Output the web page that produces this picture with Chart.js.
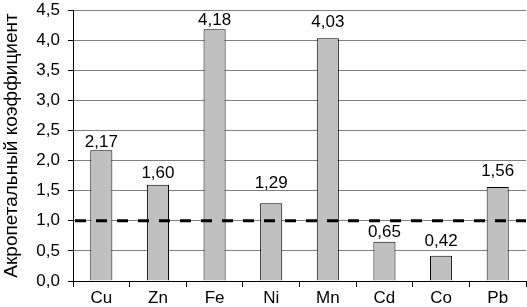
<!DOCTYPE html>
<html>
<head>
<meta charset="utf-8">
<script src="https://cdn.jsdelivr.net/npm/chart.js@4/dist/chart.umd.min.js"></script>
<style>
  html, body { margin: 0; padding: 0; background: #fff; }
  #wrap { width: 527px; height: 307px; }
</style>
</head>
<body>
<div id="wrap"><canvas id="chart"></canvas></div>
<script>
// данные
const elements = ['Cu', 'Zn', 'Fe', 'Ni', 'Mn', 'Cd', 'Co', 'Pb'];
const coefficients = [2.17, 1.60, 4.18, 1.29, 4.03, 0.65, 0.42, 1.56];
const threshold = 1.0;
const yTitle = 'Акропетальный коэффициент';

// зазор подписи над столбцом, px (подписи в оригинале сдвинуты вручную)
const labelGap = [3, 7, 4, 15, 11, 5, 10, 11];

const fmt = v => v.toFixed(2).replace('.', ',');

// подписи значений над столбцами
const valueLabels = {
  id: 'valueLabels',
  afterDatasetsDraw(chart) {
    const ctx = chart.ctx;
    const meta = chart.getDatasetMeta(0);
    ctx.save();
    ctx.font = '17px "Liberation Sans", Arial, sans-serif';
    ctx.fillStyle = '#000';
    ctx.textAlign = 'center';
    ctx.textBaseline = 'alphabetic';
    meta.data.forEach((bar, i) => {
      ctx.fillText(fmt(coefficients[i]), bar.x, bar.y - labelGap[i]);
    });
    ctx.restore();
  }
};

// пунктир на уровне 1,0
const thresholdLine = {
  id: 'thresholdLine',
  afterDatasetsDraw(chart) {
    const ctx = chart.ctx;
    const area = chart.chartArea;
    const y = chart.scales.y.getPixelForValue(threshold);
    ctx.save();
    ctx.strokeStyle = '#000';
    ctx.lineWidth = 3;
    ctx.setLineDash([11, 10]);
    ctx.lineDashOffset = -2;
    ctx.beginPath();
    ctx.moveTo(area.left, y);
    ctx.lineTo(area.right, y);
    ctx.stroke();
    ctx.restore();
  }
};

Chart.defaults.font.family = '"Liberation Sans", Arial, sans-serif';
Chart.defaults.color = '#000';

new Chart(document.getElementById('chart'), {
  type: 'bar',
  data: {
    labels: elements,
    datasets: [{
      data: coefficients,
      backgroundColor: '#c0c0c0',
      borderColor: '#000',
      borderWidth: 1,
      categoryPercentage: 1,
      barPercentage: 0.39
    }]
  },
  options: {
    responsive: true,
    maintainAspectRatio: false,
    animation: false,
    layout: { padding: { top: 10, right: 1, left: 0, bottom: 0 } },
    plugins: {
      legend: { display: false },
      tooltip: { enabled: false }
    },
    scales: {
      x: {
        grid: {
          offset: true,
          drawOnChartArea: false,
          drawTicks: true,
          tickLength: 6,
          tickColor: '#000'
        },
        border: { color: '#000', width: 1 },
        ticks: { font: { size: 17 }, padding: 1, color: '#000' },
        afterFit: s => { s.height = 26; }
      },
      y: {
        min: 0,
        max: 4.5,
        ticks: {
          stepSize: 0.5,
          font: { size: 17 },
          padding: 8,
          color: '#000',
          callback: v => v.toFixed(1).replace('.', ',')
        },
        grid: {
          color: '#808080',
          lineWidth: 1,
          tickLength: 5,
          tickColor: '#000'
        },
        border: { color: '#000', width: 1 },
        title: {
          display: true,
          text: yTitle,
          font: { size: 19 },
          color: '#000',
          padding: 0
        },
        afterFit: s => { s.width = 73; s.paddingTop = 0; s.paddingBottom = 0; }
      }
    }
  },
  plugins: [valueLabels, thresholdLine]
});
</script>
</body>
</html>
